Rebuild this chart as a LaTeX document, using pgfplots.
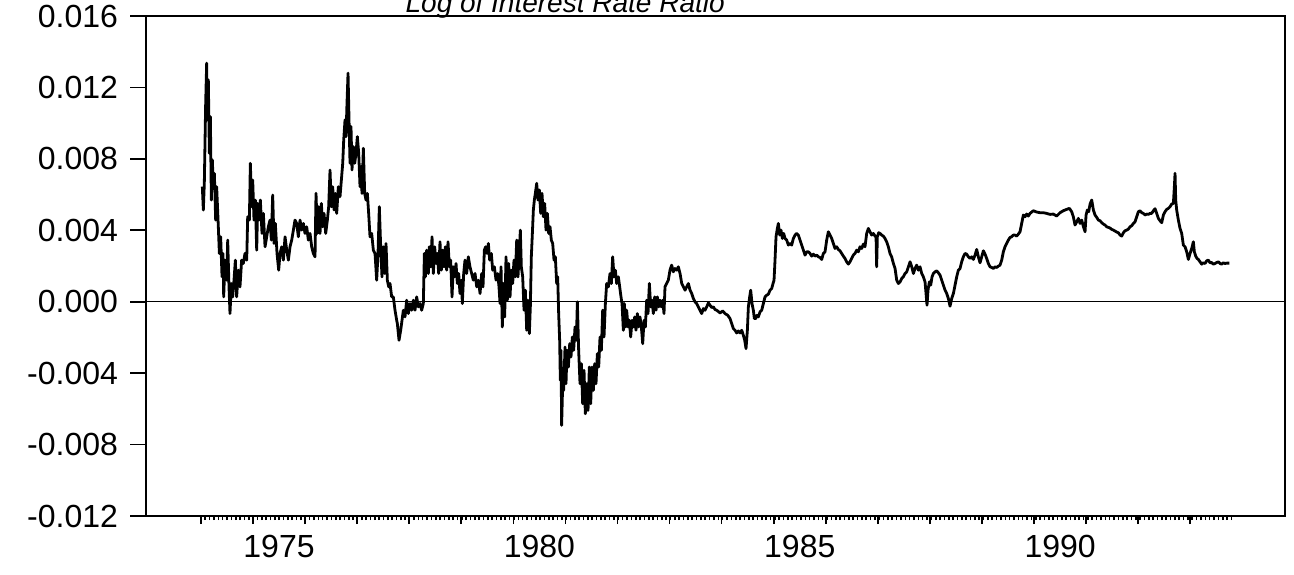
\documentclass[border=0pt]{standalone}
\usepackage{pgfplots}
\pgfplotsset{compat=1.18}
\usepackage{fontspec}
\setmainfont{Liberation Sans}
\pgfplotstableread{
yr val
1974.027 0.006442
1974.046 0.005133
1974.065 0.006629
1974.091 0.011117
1974.110 0.013361
1974.123 0.010182
1974.142 0.012426
1974.162 0.008312
1974.181 0.010369
1974.200 0.005694
1974.219 0.007938
1974.238 0.006442
1974.258 0.007190
1974.283 0.004572
1974.302 0.006442
1974.334 0.004198
1974.354 0.002702
1974.379 0.003637
1974.405 0.001393
1974.424 0.002702
1974.437 0.000271
1974.462 0.002328
1974.494 0.001206
1974.514 0.003450
1974.539 0.000832
1974.558 -0.000664
1974.584 0.001019
1974.610 0.000271
1974.635 0.001206
1974.661 0.002328
1974.686 0.000271
1974.718 0.001767
1974.750 0.000832
1974.782 0.002328
1974.814 0.002141
1974.846 0.002702
1974.879 0.002328
1974.898 0.004759
1974.930 0.004572
1974.949 0.007751
1974.975 0.005320
1974.994 0.006816
1975.019 0.004572
1975.045 0.005694
1975.071 0.002889
1975.090 0.005507
1975.115 0.004572
1975.141 0.005694
1975.173 0.003824
1975.199 0.004946
1975.231 0.003076
1975.263 0.003637
1975.295 0.004198
1975.327 0.004572
1975.352 0.003450
1975.378 0.005975
1975.404 0.003263
1975.429 0.004385
1975.461 0.002702
1975.493 0.001767
1975.519 0.002702
1975.551 0.003076
1975.583 0.002328
1975.615 0.003637
1975.647 0.002889
1975.679 0.002328
1975.711 0.003076
1975.743 0.003450
1975.775 0.004011
1975.807 0.004572
1975.839 0.004385
1975.871 0.003637
1975.903 0.004572
1975.935 0.004011
1975.967 0.004385
1975.999 0.003824
1976.031 0.004198
1976.063 0.003450
1976.095 0.003824
1976.127 0.003076
1976.159 0.002702
1976.191 0.002515
1976.210 0.006068
1976.236 0.003824
1976.261 0.005320
1976.287 0.003824
1976.313 0.005507
1976.338 0.004198
1976.364 0.004946
1976.396 0.003824
1976.428 0.004572
1976.453 0.005320
1976.479 0.007377
1976.505 0.005320
1976.530 0.006442
1976.556 0.005133
1976.581 0.006068
1976.607 0.004946
1976.639 0.006442
1976.671 0.005881
1976.697 0.006816
1976.723 0.007751
1976.742 0.009060
1976.767 0.010182
1976.786 0.009247
1976.805 0.011117
1976.825 0.012800
1976.844 0.010182
1976.863 0.007751
1976.882 0.009808
1976.901 0.007377
1976.927 0.008686
1976.953 0.007751
1976.978 0.008312
1977.004 0.009247
1977.030 0.008312
1977.055 0.006442
1977.074 0.007564
1977.093 0.006068
1977.119 0.008593
1977.145 0.006068
1977.170 0.005694
1977.196 0.006068
1977.221 0.004946
1977.247 0.003637
1977.279 0.003824
1977.311 0.002889
1977.343 0.002702
1977.375 0.001206
1977.401 0.002702
1977.426 0.005320
1977.452 0.003076
1977.477 0.001393
1977.503 0.003076
1977.529 0.001580
1977.554 0.003263
1977.580 0.001206
1977.606 0.000832
1977.631 0.001019
1977.663 0.000271
1977.695 0.000271
1977.727 -0.000477
1977.759 -0.001038
1977.772 -0.001225
1977.804 -0.002160
1977.836 -0.001599
1977.862 -0.001038
1977.887 -0.000477
1977.919 -0.000851
1977.951 0.000084
1977.983 -0.000664
1978.015 -0.000103
1978.047 -0.000477
1978.079 0.000084
1978.111 -0.000477
1978.143 0.000271
1978.175 -0.000290
1978.207 -0.000103
1978.239 -0.000477
1978.271 -0.000103
1978.291 0.002702
1978.310 0.001393
1978.335 0.002889
1978.367 0.001580
1978.387 0.003076
1978.412 0.001954
1978.438 0.003637
1978.463 0.001580
1978.489 0.003076
1978.515 0.002141
1978.540 0.002702
1978.566 0.001580
1978.591 0.003357
1978.617 0.001767
1978.643 0.002889
1978.668 0.001954
1978.694 0.003076
1978.719 0.001767
1978.745 0.003357
1978.771 0.001954
1978.796 0.002328
1978.822 0.000271
1978.847 0.001954
1978.873 0.001393
1978.899 0.002141
1978.924 0.001019
1978.950 0.001580
1978.975 0.000458
1979.001 0.001206
1979.020 -0.000103
1979.046 0.001580
1979.071 0.002328
1979.103 0.001580
1979.135 0.002515
1979.167 0.001954
1979.199 0.001580
1979.231 0.001206
1979.264 0.001580
1979.296 0.000832
1979.328 0.001206
1979.360 0.000458
1979.392 0.001580
1979.417 0.000832
1979.443 0.002889
1979.468 0.003076
1979.494 0.002702
1979.520 0.003263
1979.545 0.002328
1979.577 0.002702
1979.603 0.001767
1979.635 0.001954
1979.667 0.001206
1979.699 0.001580
1979.724 0.000832
1979.744 -0.000103
1979.763 0.001954
1979.788 -0.001412
1979.808 0.001019
1979.833 -0.000851
1979.859 0.002515
1979.884 0.000084
1979.910 0.002141
1979.936 0.000271
1979.961 0.001767
1979.987 0.001019
1980.012 0.002328
1980.038 0.001393
1980.064 0.003450
1980.089 0.001393
1980.115 0.002889
1980.134 0.004011
1980.153 0.001954
1980.179 0.001393
1980.205 -0.000477
1980.230 0.000645
1980.256 -0.001599
1980.281 0.000084
1980.307 -0.001786
1980.326 -0.000290
1980.345 0.002515
1980.365 0.003824
1980.384 0.005133
1980.403 0.005694
1980.422 0.006068
1980.448 0.006629
1980.473 0.005694
1980.499 0.006255
1980.525 0.004946
1980.550 0.006068
1980.576 0.004759
1980.601 0.005507
1980.627 0.004011
1980.653 0.004946
1980.678 0.003824
1980.704 0.004198
1980.729 0.003450
1980.755 0.003263
1980.781 0.002328
1980.806 0.002515
1980.832 0.001019
1980.851 0.001393
1980.870 -0.000664
1980.889 -0.002160
1980.902 -0.004404
1980.915 -0.002721
1980.927 -0.006928
1980.947 -0.004591
1980.966 -0.004965
1980.992 -0.002534
1981.011 -0.004591
1981.030 -0.002721
1981.056 -0.003656
1981.082 -0.002347
1981.107 -0.003095
1981.133 -0.001973
1981.158 -0.002721
1981.184 -0.001412
1981.210 -0.002160
1981.229 -0.000010
1981.254 -0.002721
1981.280 -0.004591
1981.306 -0.003469
1981.331 -0.005713
1981.357 -0.003843
1981.382 -0.006274
1981.408 -0.004591
1981.434 -0.006087
1981.459 -0.003656
1981.485 -0.005713
1981.510 -0.003656
1981.536 -0.004965
1981.562 -0.003469
1981.587 -0.004591
1981.613 -0.002908
1981.639 -0.003656
1981.664 -0.001973
1981.690 -0.002721
1981.715 -0.000477
1981.741 -0.001973
1981.767 -0.000103
1981.792 0.001019
1981.824 0.000832
1981.856 0.001580
1981.882 0.001019
1981.907 0.002515
1981.933 0.001393
1981.959 0.001767
1981.984 0.001019
1982.016 0.001393
1982.042 0.000832
1982.067 0.000271
1982.087 -0.000103
1982.112 -0.001599
1982.131 -0.000103
1982.157 -0.001412
1982.176 -0.000477
1982.202 -0.001412
1982.227 -0.001038
1982.253 -0.001973
1982.279 -0.001038
1982.304 -0.001412
1982.330 -0.000851
1982.355 -0.001599
1982.381 -0.000664
1982.407 -0.001412
1982.432 -0.000851
1982.458 -0.001412
1982.484 -0.002347
1982.509 -0.001038
1982.535 -0.001412
1982.560 0.000084
1982.586 -0.000664
1982.612 0.001019
1982.637 -0.000290
1982.663 0.000084
1982.688 -0.000664
1982.714 0.000271
1982.740 -0.000477
1982.765 0.000271
1982.791 -0.000290
1982.816 0.000084
1982.842 -0.000290
1982.868 0.000084
1982.893 -0.000664
1982.912 0.000832
1982.944 0.001019
1982.976 0.001206
1983.008 0.001767
1983.040 0.002048
1983.072 0.001674
1983.104 0.001861
1983.137 0.001767
1983.169 0.001954
1983.201 0.001580
1983.233 0.001019
1983.265 0.000832
1983.297 0.000645
1983.329 0.000832
1983.361 0.001019
1983.393 0.000645
1983.425 0.000458
1983.457 0.000177
1983.489 -0.000010
1983.521 -0.000103
1983.553 -0.000290
1983.585 -0.000477
1983.617 -0.000664
1983.649 -0.000384
1983.681 -0.000477
1983.713 -0.000290
1983.745 -0.000066
1983.777 -0.000197
1983.809 -0.000327
1983.841 -0.000290
1983.873 -0.000440
1983.905 -0.000477
1983.969 -0.000627
1984.020 -0.000515
1984.065 -0.000664
1984.116 -0.000758
1984.161 -0.000945
1984.193 -0.001225
1984.225 -0.001506
1984.257 -0.001599
1984.289 -0.001749
1984.321 -0.001636
1984.353 -0.001749
1984.385 -0.001599
1984.417 -0.001880
1984.443 -0.002160
1984.468 -0.002628
1984.494 -0.001599
1984.513 -0.000290
1984.538 0.000271
1984.558 0.000645
1984.583 -0.000103
1984.609 -0.000477
1984.628 -0.000945
1984.654 -0.000945
1984.679 -0.000758
1984.705 -0.000851
1984.737 -0.000571
1984.769 -0.000477
1984.801 -0.000103
1984.833 0.000271
1984.865 0.000364
1984.897 0.000421
1984.929 0.000645
1984.961 0.000738
1984.987 0.001019
1985.006 0.001206
1985.025 0.002328
1985.044 0.003637
1985.070 0.004105
1985.089 0.004385
1985.115 0.003731
1985.140 0.004011
1985.166 0.003544
1985.191 0.003824
1985.217 0.003544
1985.249 0.003450
1985.281 0.003170
1985.313 0.003263
1985.345 0.003170
1985.377 0.003544
1985.409 0.003731
1985.441 0.003824
1985.473 0.003731
1985.505 0.003450
1985.537 0.003170
1985.569 0.002889
1985.601 0.002609
1985.633 0.002795
1985.665 0.002795
1985.697 0.002702
1985.729 0.002553
1985.761 0.002665
1985.793 0.002553
1985.825 0.002609
1985.857 0.002515
1985.889 0.002478
1985.921 0.002365
1985.953 0.002702
1985.985 0.002795
1986.017 0.003450
1986.049 0.003918
1986.081 0.003731
1986.113 0.003544
1986.145 0.003263
1986.177 0.002983
1986.209 0.003076
1986.241 0.002926
1986.273 0.002852
1986.305 0.002702
1986.337 0.002553
1986.369 0.002422
1986.401 0.002235
1986.433 0.002104
1986.465 0.002235
1986.497 0.002422
1986.529 0.002609
1986.561 0.002702
1986.593 0.002889
1986.625 0.002795
1986.657 0.003076
1986.689 0.002983
1986.721 0.003226
1986.753 0.003076
1986.785 0.003824
1986.817 0.004105
1986.849 0.003918
1986.881 0.003731
1986.913 0.003824
1986.945 0.003675
1986.965 0.003637
1986.977 0.001954
1986.990 0.003637
1987.016 0.003862
1987.041 0.003824
1987.073 0.003731
1987.105 0.003675
1987.137 0.003544
1987.169 0.003357
1987.201 0.003076
1987.233 0.002702
1987.265 0.002515
1987.298 0.002141
1987.330 0.001861
1987.362 0.001206
1987.394 0.001019
1987.426 0.001113
1987.458 0.001300
1987.490 0.001393
1987.522 0.001580
1987.554 0.001674
1987.586 0.001954
1987.618 0.002235
1987.650 0.001954
1987.682 0.001580
1987.714 0.001861
1987.746 0.002048
1987.778 0.001767
1987.810 0.001954
1987.842 0.001580
1987.874 0.001393
1987.906 0.001113
1987.925 0.000458
1987.944 -0.000196
1987.963 0.000645
1987.989 0.001113
1988.015 0.000926
1988.040 0.001393
1988.066 0.001580
1988.098 0.001674
1988.130 0.001730
1988.162 0.001618
1988.194 0.001487
1988.226 0.001206
1988.258 0.000926
1988.290 0.000645
1988.322 0.000458
1988.354 0.000178
1988.386 -0.000252
1988.418 0.000178
1988.450 0.000458
1988.482 0.000926
1988.514 0.001393
1988.546 0.001767
1988.578 0.001861
1988.610 0.002235
1988.642 0.002515
1988.674 0.002702
1988.706 0.002665
1988.738 0.002515
1988.770 0.002422
1988.802 0.002515
1988.834 0.002366
1988.866 0.002609
1988.898 0.002926
1988.930 0.002515
1988.962 0.002179
1988.994 0.002515
1989.026 0.002852
1989.058 0.002665
1989.090 0.002422
1989.122 0.002141
1989.154 0.001954
1989.186 0.001917
1989.218 0.001861
1989.250 0.001954
1989.282 0.001917
1989.314 0.001992
1989.346 0.002048
1989.378 0.002328
1989.410 0.002795
1989.442 0.003076
1989.474 0.003263
1989.506 0.003450
1989.538 0.003600
1989.570 0.003637
1989.602 0.003731
1989.634 0.003731
1989.666 0.003675
1989.698 0.003787
1989.730 0.003918
1989.762 0.004385
1989.794 0.004853
1989.826 0.004759
1989.858 0.004909
1989.890 0.004797
1989.922 0.004946
1989.986 0.005096
1990.050 0.005021
1990.114 0.004984
1990.178 0.004984
1990.242 0.004946
1990.306 0.004890
1990.370 0.004909
1990.434 0.004797
1990.498 0.004984
1990.562 0.005096
1990.626 0.005171
1990.678 0.005227
1990.722 0.005040
1990.754 0.004759
1990.786 0.004292
1990.819 0.004479
1990.851 0.004666
1990.883 0.004385
1990.915 0.004572
1990.947 0.004198
1990.979 0.003918
1990.998 0.004853
1991.023 0.005133
1991.049 0.005040
1991.075 0.005470
1991.107 0.005694
1991.139 0.005133
1991.171 0.004853
1991.203 0.004722
1991.235 0.004572
1991.267 0.004535
1991.299 0.004423
1991.331 0.004348
1991.363 0.004292
1991.395 0.004198
1991.427 0.004161
1991.459 0.004124
1991.491 0.004049
1991.523 0.004011
1991.555 0.003955
1991.587 0.003899
1991.619 0.003862
1991.651 0.003731
1991.683 0.003675
1991.715 0.003862
1991.747 0.003974
1991.779 0.004011
1991.811 0.004067
1991.843 0.004198
1991.875 0.004255
1991.907 0.004385
1991.939 0.004479
1991.971 0.004759
1992.003 0.005040
1992.035 0.005096
1992.067 0.004984
1992.099 0.004946
1992.131 0.004853
1992.163 0.004909
1992.195 0.004890
1992.227 0.004946
1992.259 0.004946
1992.291 0.005096
1992.323 0.005208
1992.355 0.004946
1992.387 0.004666
1992.419 0.004535
1992.451 0.004423
1992.483 0.004853
1992.515 0.005040
1992.547 0.005171
1992.579 0.005227
1992.611 0.005320
1992.643 0.005470
1992.675 0.005507
1992.694 0.006442
1992.707 0.007190
1992.720 0.005694
1992.739 0.005133
1992.771 0.004572
1992.803 0.004105
1992.835 0.003824
1992.867 0.003170
1992.899 0.003076
1992.931 0.002795
1992.963 0.002366
1992.995 0.002702
1993.027 0.002983
1993.059 0.003357
1993.078 0.002795
1993.104 0.002553
1993.130 0.002422
1993.155 0.002366
1993.187 0.002235
1993.219 0.002104
1993.251 0.002179
1993.283 0.002141
1993.315 0.002291
1993.347 0.002328
1993.379 0.002179
1993.411 0.002197
1993.443 0.002104
1993.475 0.002141
1993.507 0.002197
1993.539 0.002235
1993.571 0.002141
1993.603 0.002104
1993.635 0.002179
1993.667 0.002141
1993.699 0.002160
1993.750 0.002160
}\ratiodata
\begin{document}
\begin{tikzpicture}
\begin{axis}[
  scale only axis,
  width=569.5pt, height=250pt,
  xmin=1972.945, xmax=1994.819,
  ymin=-0.012, ymax=0.016,
  clip mode=individual,
  scaled y ticks=false,
  scaled x ticks=false,
  axis line style={line width=1pt},
  tick align=outside,
  xtick pos=bottom, ytick pos=left,
  xtick={1974,1975,...,1993},
  xticklabels={},
  minor xtick={1974,1974.08333,...,1993.75},
  major tick length=4pt,
  minor tick length=2pt,
  every tick/.style={black, line width=0.8pt},
  ytick={-0.012,-0.008,-0.004,0,0.004,0.008,0.012,0.016},
  yticklabels={-0.012,-0.008,-0.004,0.000,0.004,0.008,0.012,0.016},
  y tick style={/pgfplots/major tick length=8pt},
  extra x ticks={1975.5,1980.5,1985.5,1990.5},
  extra x tick labels={1975,1980,1985,1990},
  extra x tick style={major tick length=0pt},
  tick label style={font=\fontsize{16}{16}\selectfont},
  yticklabel style={xshift=-6.5pt},
  xticklabel style={yshift=-6pt},
]
\addplot[black, line width=0.7pt, forget plot] coordinates {(1972.945,0) (1994.819,0)};
\addplot[black, line width=1.4pt, line join=round] table[x=yr, y=val] {\ratiodata};
\node[anchor=base, inner sep=0pt, font=\fontsize{14}{14}\itshape\selectfont]
  at (rel axis cs:0.368,1.008) {Log of Interest Rate Ratio};
\end{axis}
\pgfresetboundingbox
\path[use as bounding box] (-73pt,-29pt) rectangle (574pt,258pt);
\end{tikzpicture}
\end{document}
